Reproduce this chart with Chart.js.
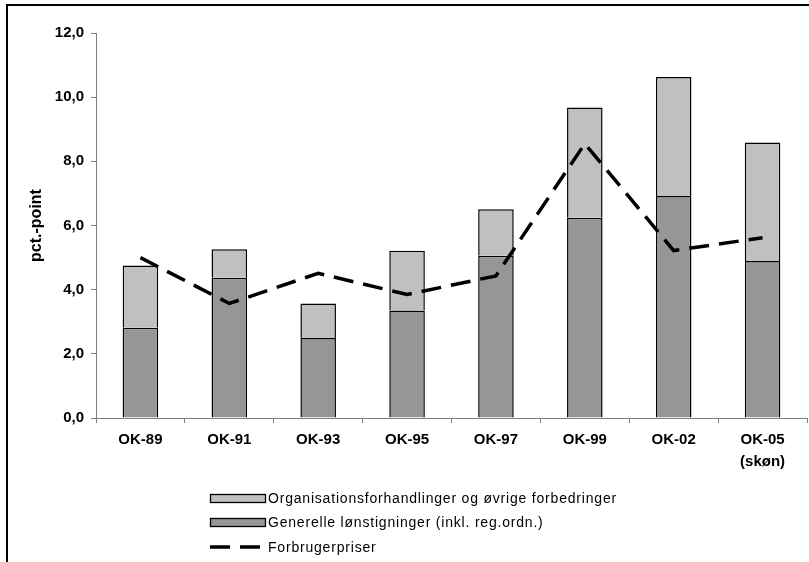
<!DOCTYPE html>
<html>
<head>
<meta charset="utf-8">
<script src="https://cdn.jsdelivr.net/npm/chart.js@4/dist/chart.umd.min.js"></script>
<style>
  html, body { margin: 0; padding: 0; background: #fff; overflow: hidden; }
  #wrap { position: relative; width: 809px; height: 562px; }
</style>
</head>
<body>
<div id="wrap"><canvas id="c" width="809" height="562"></canvas></div>
<script>
// Overenskomstperioder
const categories = [['OK-89'], ['OK-91'], ['OK-93'], ['OK-95'], ['OK-97'], ['OK-99'], ['OK-02'], ['OK-05', '(skøn)']];

// Generelle lønstigninger (inkl. reg.ordn.), pct.-point
const generelle = [2.81, 4.37, 2.49, 3.35, 5.06, 6.24, 6.92, 4.89];

// Organisationsforhandlinger og øvrige forbedringer, pct.-point
const organisation = [1.94, 0.89, 1.08, 1.86, 1.45, 3.44, 3.71, 3.70];

// Forbrugerpriser
const forbrugerpriser = [5.00, 3.57, 4.51, 3.85, 4.43, 8.55, 5.22, 5.62];

// Akse
const yMin = 0, yMax = 12, yStep = 2;

const labelOrg = 'Organisationsforhandlinger og øvrige forbedringer';
const labelGen = 'Generelle lønstigninger (inkl. reg.ordn.)';
const labelCpi = 'Forbrugerpriser';

const FONT = '"Liberation Sans", Arial, sans-serif';
const AXIS_GREY = '#808080';

// Ramme omkring diagrammet
const framePlugin = {
  id: 'frame',
  afterDraw(chart) {
    const ctx = chart.ctx;
    ctx.save();
    ctx.fillStyle = '#000';
    ctx.fillRect(6, 4, 2, chart.height - 4);
    ctx.fillRect(6, 4, chart.width - 6, 2);
    ctx.restore();
  }
};

// Lodret forklaring under diagrammet
const legendPlugin = {
  id: 'stackedLegend',
  afterDraw(chart) {
    const ctx = chart.ctx;
    const ds = chart.data.datasets;
    const items = [ds[1], ds[0], ds[2]];
    const x0 = 210, boxW = 56, boxH = 8, textX = 268;
    const rows = [498, 522, 547];
    ctx.save();
    ctx.font = '14px ' + FONT;
    ctx.letterSpacing = '0.8px';
    ctx.textBaseline = 'middle';
    items.forEach((d, i) => {
      const y = rows[i];
      if (d.type === 'line') {
        ctx.strokeStyle = d.borderColor;
        ctx.lineWidth = d.borderWidth;
        ctx.setLineDash(d.borderDash);
        ctx.beginPath();
        ctx.moveTo(x0, y);
        ctx.lineTo(x0 + boxW, y);
        ctx.stroke();
        ctx.setLineDash([]);
      } else {
        ctx.fillStyle = d.backgroundColor;
        ctx.fillRect(x0 + 0.5, y - boxH / 2 + 0.5, boxW - 1, boxH);
        ctx.strokeStyle = '#000';
        ctx.lineWidth = 1.3;
        ctx.strokeRect(x0 + 0.5, y - boxH / 2 + 0.5, boxW - 1, boxH);
      }
      ctx.fillStyle = '#000';
      ctx.fillText(d.label, textX, y + 1);
    });
    ctx.restore();
  }
};

new Chart(document.getElementById('c'), {
  data: {
    labels: categories,
    datasets: [
      {
        type: 'bar',
        label: labelGen,
        data: generelle,
        backgroundColor: '#969696',
        borderColor: '#000',
        borderWidth: 1.5,
        stack: 'lon',
        order: 2,
        barPercentage: 0.4,
        categoryPercentage: 1.0
      },
      {
        type: 'bar',
        label: labelOrg,
        data: organisation,
        backgroundColor: '#c0c0c0',
        borderColor: '#000',
        borderWidth: 1.5,
        stack: 'lon',
        order: 2,
        barPercentage: 0.4,
        categoryPercentage: 1.0
      },
      {
        type: 'line',
        label: labelCpi,
        data: forbrugerpriser,
        borderColor: '#000',
        borderWidth: 3.5,
        borderDash: [20, 10],
        pointRadius: 0,
        tension: 0,
        fill: false,
        stack: 'cpi',
        order: 0
      }
    ]
  },
  options: {
    responsive: false,
    animation: false,
    devicePixelRatio: 1,
    layout: { padding: { top: 33, right: 2, left: 0, bottom: 0 } },
    plugins: {
      legend: { display: false },
      tooltip: { enabled: false }
    },
    scales: {
      x: {
        stacked: true,
        offset: true,
        grid: {
          offset: true,
          drawOnChartArea: false,
          drawTicks: true,
          tickLength: 5,
          color: AXIS_GREY,
          tickColor: AXIS_GREY
        },
        border: { color: AXIS_GREY, width: 1 },
        ticks: {
          color: '#000',
          font: { family: FONT, size: 15, weight: 'bold', lineHeight: 1.47 },
          padding: 6,
          maxRotation: 0,
          autoSkip: false
        },
        afterFit(scale) { scale.height = 144; }
      },
      y: {
        stacked: true,
        min: yMin,
        max: yMax,
        grid: {
          drawOnChartArea: false,
          drawTicks: true,
          tickLength: 5,
          color: AXIS_GREY,
          tickColor: AXIS_GREY
        },
        border: { color: AXIS_GREY, width: 1 },
        ticks: {
          stepSize: yStep,
          color: '#000',
          padding: 7,
          font: { family: FONT, size: 15, weight: 'bold' },
          callback: (v) => v.toFixed(1).replace('.', ',')
        },
        title: {
          display: true,
          text: 'pct.-point',
          color: '#000',
          font: { family: FONT, size: 16, weight: 'bold' },
          padding: { top: 27, bottom: 0 }
        },
        afterFit(scale) { scale.width = 96; }
      }
    }
  },
  plugins: [framePlugin, legendPlugin]
});
</script>
</body>
</html>
